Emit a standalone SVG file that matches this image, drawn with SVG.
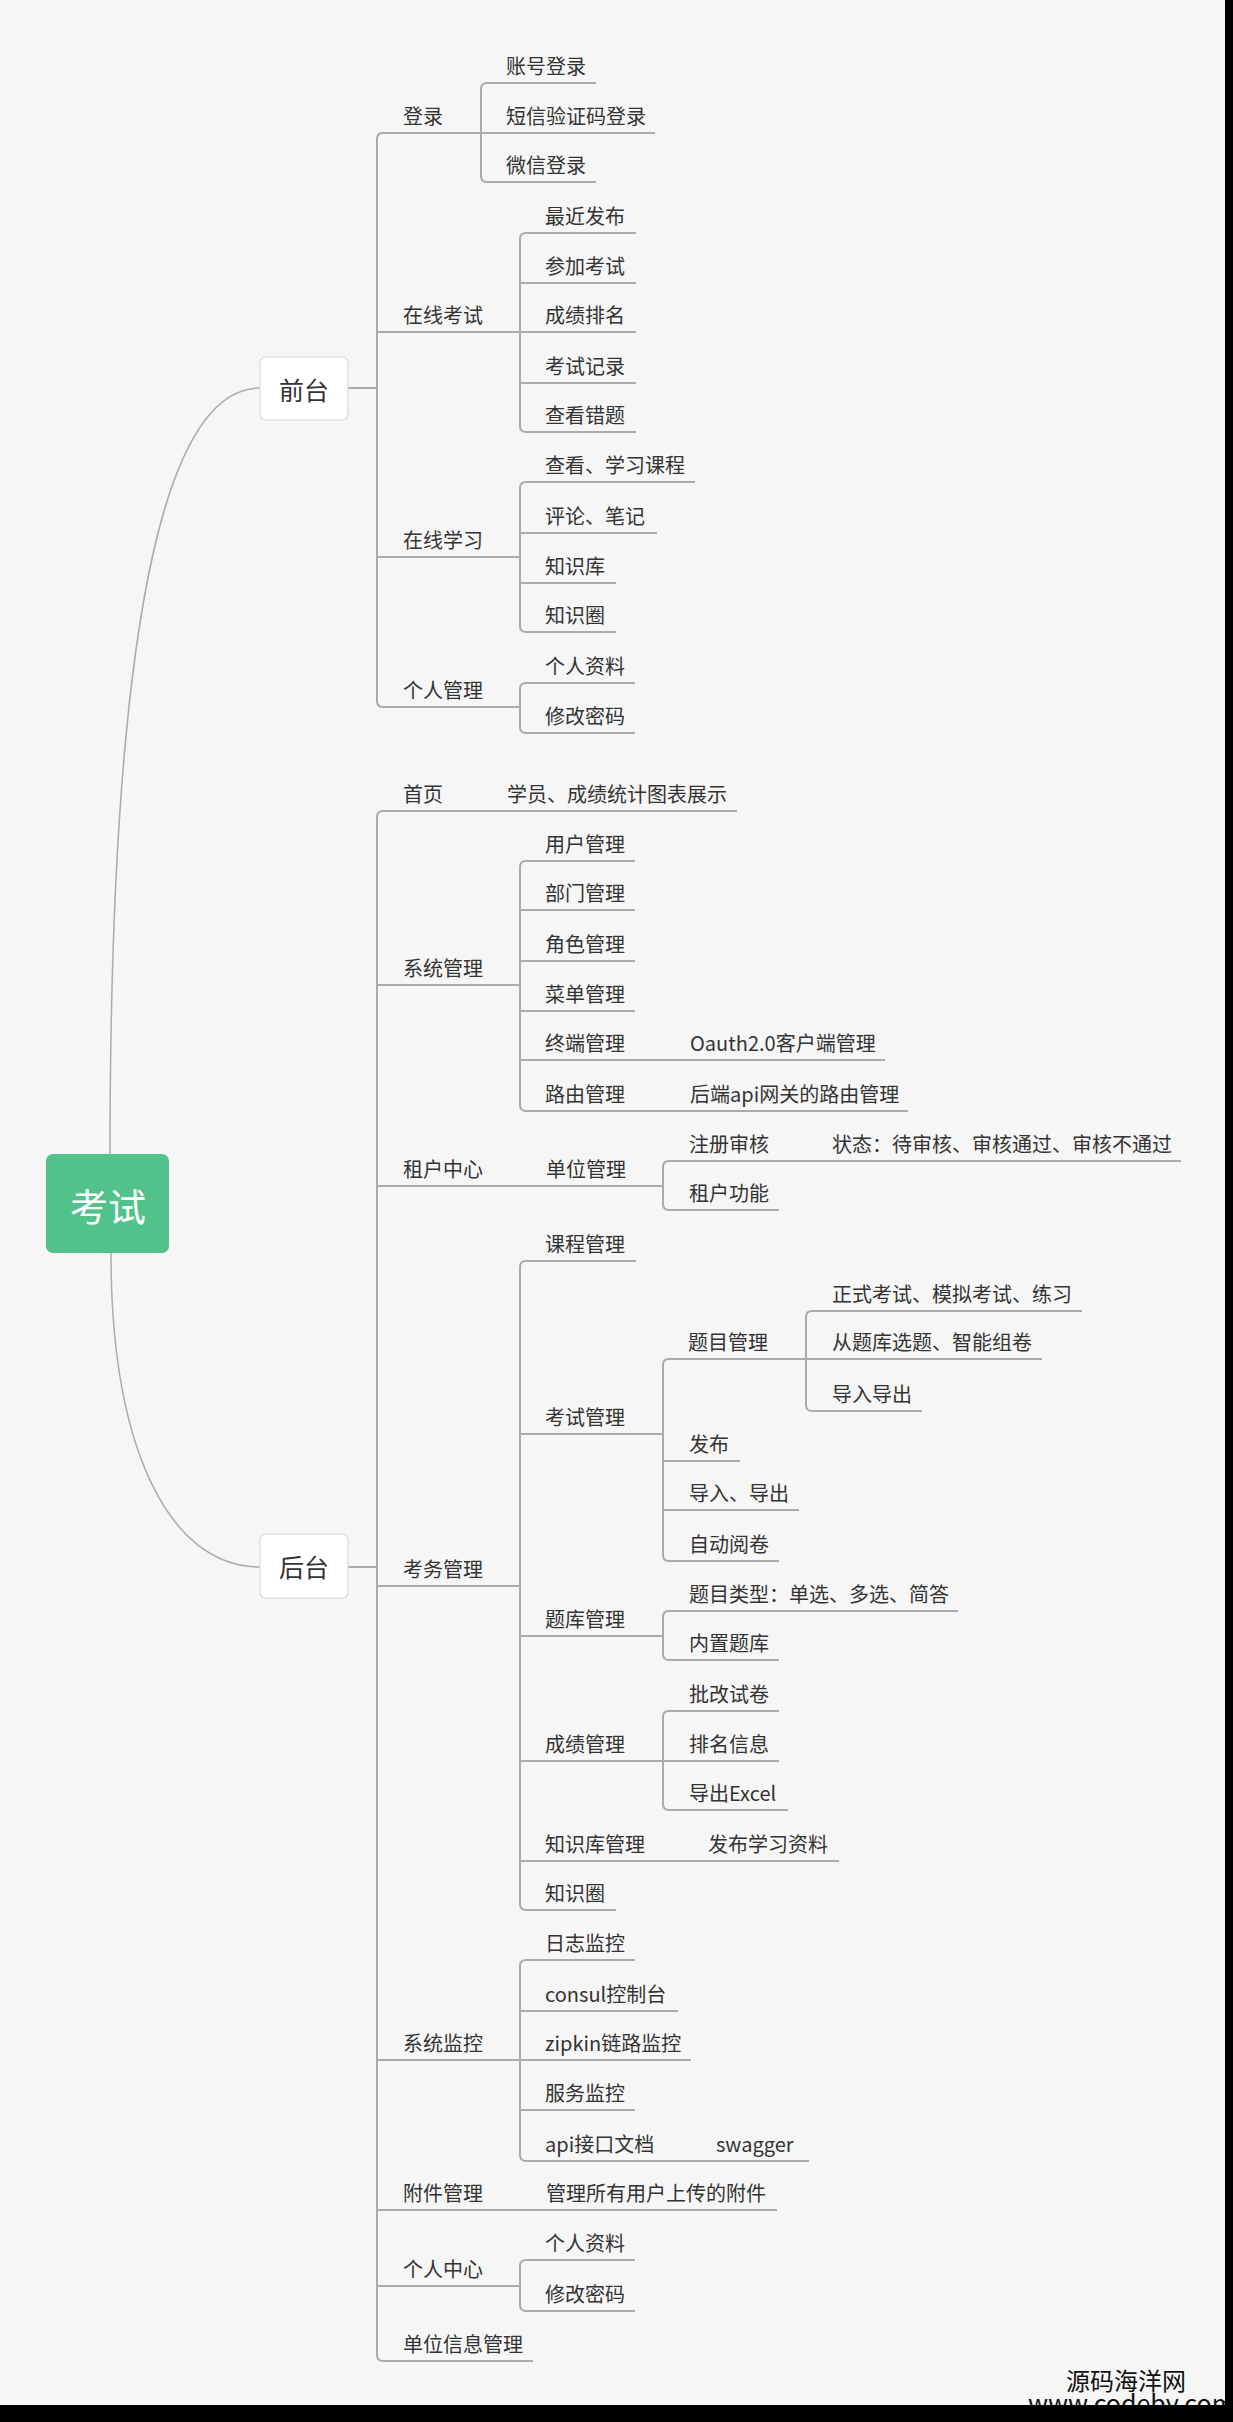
<svg xmlns="http://www.w3.org/2000/svg" width="1233" height="2422" viewBox="0 0 1233 2422">
<style>
.ln{fill:none;stroke:#ababab;stroke-width:2;stroke-linecap:butt}
.cv{fill:none;stroke:#ababab;stroke-width:1.5}
.t{font-family:"Microsoft YaHei","Noto Sans CJK SC","Noto Sans",sans-serif;font-size:20px;fill:#333}
.bx{fill:#fff;stroke:#d9d9d9;stroke-width:1.2}
.bt{font-family:"Noto Sans CJK SC","Noto Sans",sans-serif;font-size:25px;fill:#333;text-anchor:middle}
.rt{font-family:"Noto Sans CJK SC","Noto Sans",sans-serif;font-size:38px;fill:#fff;text-anchor:middle}
.wm{font-family:"Noto Sans CJK SC","Noto Sans",sans-serif;fill:#111}
</style>
<rect x="0" y="0" width="1233" height="2422" fill="#f6f6f6"/>
<g id="connectors">
<path class="cv" d="M110,1154 C110,700 150,388 260,388"/>
<path class="cv" d="M111,1253 C111,1450 170,1567 260,1567"/>
<path class="ln" d="M348,388 H377"/>
<path class="ln" d="M348,1567 H377"/>
<path class="ln" d="M481,133 H383 Q377,133 377,139 V701 Q377,707 383,707 H520"/>
<path class="ln" d="M377,332 H520"/>
<path class="ln" d="M377,557 H520"/>
<path class="ln" d="M596,83 H487 Q481,83 481,89 V176 Q481,182 487,182 H596"/>
<path class="ln" d="M481,133 H655"/>
<path class="ln" d="M636,233 H526 Q520,233 520,239 V426 Q520,432 526,432 H636"/>
<path class="ln" d="M520,283 H636"/>
<path class="ln" d="M520,332 H636"/>
<path class="ln" d="M520,383 H636"/>
<path class="ln" d="M695,482 H526 Q520,482 520,488 V626 Q520,632 526,632 H616"/>
<path class="ln" d="M520,533 H657"/>
<path class="ln" d="M520,583 H616"/>
<path class="ln" d="M635,683 H526 Q520,683 520,689 V727 Q520,733 526,733 H635"/>
<path class="ln" d="M737,811 H383 Q377,811 377,817 V2355 Q377,2361 383,2361 H533"/>
<path class="ln" d="M377,985 H520"/>
<path class="ln" d="M377,1186 H663"/>
<path class="ln" d="M377,1586 H520"/>
<path class="ln" d="M377,2060 H520"/>
<path class="ln" d="M377,2210 H777"/>
<path class="ln" d="M377,2286 H520"/>
<path class="ln" d="M635,861 H526 Q520,861 520,867 V1105 Q520,1111 526,1111 H908"/>
<path class="ln" d="M520,910 H635"/>
<path class="ln" d="M520,961 H635"/>
<path class="ln" d="M520,1011 H635"/>
<path class="ln" d="M520,1060 H885"/>
<path class="ln" d="M1181,1161 H669 Q663,1161 663,1167 V1204 Q663,1210 669,1210 H779"/>
<path class="ln" d="M636,1261 H526 Q520,1261 520,1267 V1904 Q520,1910 526,1910 H616"/>
<path class="ln" d="M520,1434 H663"/>
<path class="ln" d="M520,1636 H663"/>
<path class="ln" d="M520,1761 H663"/>
<path class="ln" d="M520,1861 H839"/>
<path class="ln" d="M806,1359 H669 Q663,1359 663,1365 V1555 Q663,1561 669,1561 H779"/>
<path class="ln" d="M663,1461 H740"/>
<path class="ln" d="M663,1510 H799"/>
<path class="ln" d="M1082,1311 H812 Q806,1311 806,1317 V1405 Q806,1411 812,1411 H922"/>
<path class="ln" d="M806,1359 H1042"/>
<path class="ln" d="M958,1611 H669 Q663,1611 663,1617 V1654 Q663,1660 669,1660 H779"/>
<path class="ln" d="M779,1711 H669 Q663,1711 663,1717 V1804 Q663,1810 669,1810 H788"/>
<path class="ln" d="M663,1761 H779"/>
<path class="ln" d="M635,1960 H526 Q520,1960 520,1966 V2155 Q520,2161 526,2161 H809"/>
<path class="ln" d="M520,2011 H678"/>
<path class="ln" d="M520,2060 H691"/>
<path class="ln" d="M520,2110 H635"/>
<path class="ln" d="M635,2260 H526 Q520,2260 520,2266 V2305 Q520,2311 526,2311 H635"/>
</g>
<g id="root"><rect x="46" y="1154" width="123" height="99" rx="7" fill="#50c28a"/><text class="rt" x="108" y="1221">考试</text></g>
<g id="qiantai"><rect class="bx" x="260" y="357" width="88" height="63" rx="6"/><text class="bt" x="304" y="400">前台</text></g>
<g id="houtai"><rect class="bx" x="260" y="1534" width="88" height="64" rx="6"/><text class="bt" x="304" y="1577">后台</text></g>
<g id="n-denglu"><text class="t" x="403" y="124">登录</text></g>
<g id="n-zhanghao"><text class="t" x="506" y="74">账号登录</text></g>
<g id="n-duanxin"><text class="t" x="506" y="124">短信验证码登录</text></g>
<g id="n-weixin"><text class="t" x="506" y="173">微信登录</text></g>
<g id="n-zaixiankaoshi"><text class="t" x="403" y="323">在线考试</text></g>
<g id="n-zuijin"><text class="t" x="545" y="224">最近发布</text></g>
<g id="n-canjia"><text class="t" x="545" y="274">参加考试</text></g>
<g id="n-chengji"><text class="t" x="545" y="323">成绩排名</text></g>
<g id="n-jilu"><text class="t" x="545" y="374">考试记录</text></g>
<g id="n-cuoti"><text class="t" x="545" y="423">查看错题</text></g>
<g id="n-zaixianxuexi"><text class="t" x="403" y="548">在线学习</text></g>
<g id="n-kecheng"><text class="t" x="545" y="473">查看、学习课程</text></g>
<g id="n-pinglun"><text class="t" x="545" y="524">评论、笔记</text></g>
<g id="n-zhishiku1"><text class="t" x="545" y="574">知识库</text></g>
<g id="n-zhishiquan1"><text class="t" x="545" y="623">知识圈</text></g>
<g id="n-gerenguanli"><text class="t" x="403" y="698">个人管理</text></g>
<g id="n-ziliao1"><text class="t" x="545" y="674">个人资料</text></g>
<g id="n-mima1"><text class="t" x="545" y="724">修改密码</text></g>
<g id="n-shouye"><text class="t" x="403" y="802">首页</text></g>
<g id="n-tongji"><text class="t" x="507" y="802">学员、成绩统计图表展示</text></g>
<g id="n-xitongguanli"><text class="t" x="403" y="976">系统管理</text></g>
<g id="n-yonghu"><text class="t" x="545" y="852">用户管理</text></g>
<g id="n-bumen"><text class="t" x="545" y="901">部门管理</text></g>
<g id="n-juese"><text class="t" x="545" y="952">角色管理</text></g>
<g id="n-caidan"><text class="t" x="545" y="1002">菜单管理</text></g>
<g id="n-zhongduan"><text class="t" x="545" y="1051">终端管理</text></g>
<g id="n-oauth"><text class="t" x="690" y="1051">Oauth2.0客户端管理</text></g>
<g id="n-luyou"><text class="t" x="545" y="1102">路由管理</text></g>
<g id="n-wangguan"><text class="t" x="690" y="1102">后端api网关的路由管理</text></g>
<g id="n-zuhu"><text class="t" x="403" y="1177">租户中心</text></g>
<g id="n-danwei"><text class="t" x="546" y="1177">单位管理</text></g>
<g id="n-zhuce"><text class="t" x="689" y="1152">注册审核</text></g>
<g id="n-zhuangtai"><text class="t" x="832" y="1152">状态：待审核、审核通过、审核不通过</text></g>
<g id="n-zuhugongneng"><text class="t" x="689" y="1201">租户功能</text></g>
<g id="n-kaowu"><text class="t" x="403" y="1577">考务管理</text></g>
<g id="n-kechengguanli"><text class="t" x="545" y="1252">课程管理</text></g>
<g id="n-kaoshiguanli"><text class="t" x="545" y="1425">考试管理</text></g>
<g id="n-timuguanli"><text class="t" x="688" y="1350">题目管理</text></g>
<g id="n-zhengshi"><text class="t" x="832" y="1302">正式考试、模拟考试、练习</text></g>
<g id="n-xuanti"><text class="t" x="832" y="1350">从题库选题、智能组卷</text></g>
<g id="n-daorudaochu"><text class="t" x="832" y="1402">导入导出</text></g>
<g id="n-fabu"><text class="t" x="689" y="1452">发布</text></g>
<g id="n-daoru2"><text class="t" x="689" y="1501">导入、导出</text></g>
<g id="n-yuejuan"><text class="t" x="689" y="1552">自动阅卷</text></g>
<g id="n-tiku"><text class="t" x="545" y="1627">题库管理</text></g>
<g id="n-leixing"><text class="t" x="689" y="1602">题目类型：单选、多选、简答</text></g>
<g id="n-neizhi"><text class="t" x="689" y="1651">内置题库</text></g>
<g id="n-chengjiguanli"><text class="t" x="545" y="1752">成绩管理</text></g>
<g id="n-pigai"><text class="t" x="689" y="1702">批改试卷</text></g>
<g id="n-paiming"><text class="t" x="689" y="1752">排名信息</text></g>
<g id="n-excel"><text class="t" x="689" y="1801">导出Excel</text></g>
<g id="n-zhishikuguanli"><text class="t" x="545" y="1852">知识库管理</text></g>
<g id="n-fabuziliao"><text class="t" x="708" y="1852">发布学习资料</text></g>
<g id="n-zhishiquan2"><text class="t" x="545" y="1901">知识圈</text></g>
<g id="n-jiankong"><text class="t" x="403" y="2051">系统监控</text></g>
<g id="n-rizhi"><text class="t" x="545" y="1951">日志监控</text></g>
<g id="n-consul"><text class="t" x="545" y="2002">consul控制台</text></g>
<g id="n-zipkin"><text class="t" x="545" y="2051">zipkin链路监控</text></g>
<g id="n-fuwu"><text class="t" x="545" y="2101">服务监控</text></g>
<g id="n-api"><text class="t" x="545" y="2152">api接口文档</text></g>
<g id="n-swagger"><text class="t" x="716" y="2152">swagger</text></g>
<g id="n-fujian"><text class="t" x="403" y="2201">附件管理</text></g>
<g id="n-fujianall"><text class="t" x="546" y="2201">管理所有用户上传的附件</text></g>
<g id="n-gerenzhongxin"><text class="t" x="403" y="2277">个人中心</text></g>
<g id="n-ziliao2"><text class="t" x="545" y="2251">个人资料</text></g>
<g id="n-mima2"><text class="t" x="545" y="2302">修改密码</text></g>
<g id="n-danweixinxi"><text class="t" x="403" y="2352">单位信息管理</text></g>
<g id="watermark">
<text class="wm" x="1066" y="2390" font-size="24">源码海洋网</text>
<text class="wm" x="1028" y="2413" font-size="25">www.codeby.com</text>
</g>
<rect x="1225" y="0" width="8" height="2422" fill="#000"/>
<rect x="0" y="2405" width="1233" height="17" fill="#000"/>
</svg>
